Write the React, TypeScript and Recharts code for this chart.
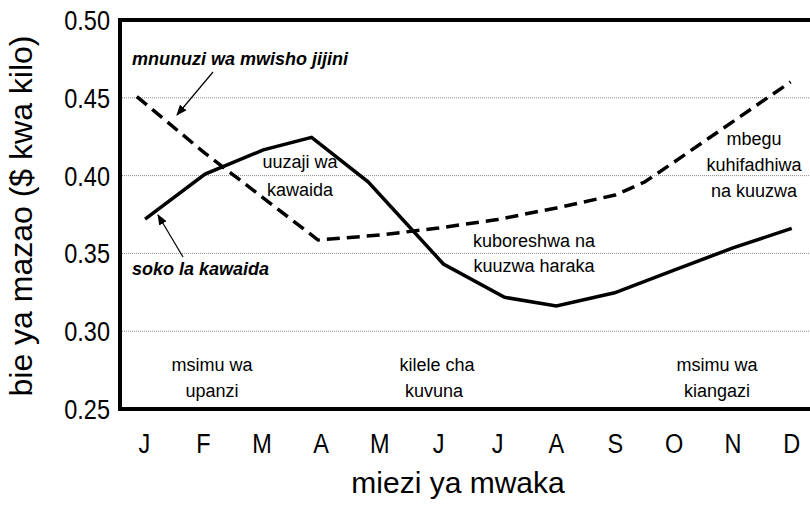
import React from "react";
import { CartesianGrid, Line, LineChart, ReferenceLine, XAxis, YAxis } from "recharts";

// month letters on the x axis (index 0 = January)
const months = ["J", "F", "M", "A", "M", "J", "J", "A", "S", "O", "N", "D"];
const monthTicks = [0, 1, 2, 3, 4, 5, 6, 7, 8, 9, 10, 11];
const priceTicks = [0.25, 0.3, 0.35, 0.4, 0.45, 0.5];

// soko la kawaida (solid line) - x is month position
const sokoMonth = [0.01, 1.03, 2.02, 2.84, 3.8, 5.08, 6.12, 7.0, 7.99, 9, 10, 11];
const sokoPrice = [0.372, 0.401, 0.4165, 0.4246, 0.396, 0.3432, 0.3218, 0.3162, 0.3247, 0.3393, 0.3535, 0.3661];

// mnunuzi wa mwisho jijini (dashed line)
const mjiniMonth = [-0.13, 1, 2, 2.95, 4, 5, 6, 7, 8, 8.5, 9, 10, 10.98];
const mjiniPrice = [0.4508, 0.4152, 0.3862, 0.3586, 0.3618, 0.3663, 0.3718, 0.3792, 0.3875, 0.3959, 0.4087, 0.4347, 0.4602];

const sokoData = sokoMonth.map((m, i) => ({ m, price: sokoPrice[i] }));
const mjiniData = mjiniMonth.map((m, i) => ({ m, price: mjiniPrice[i] }));

const FONT = "'Liberation Sans', Arial, Helvetica, sans-serif";

function YTick(props: any) {
  const { x, y, payload } = props;
  return (
    <text
      transform={`translate(${x},${y}) scale(0.84,1)`}
      textAnchor="end"
      dy="0.36em"
      fontSize={28}
      fontFamily={FONT}
      fill="#000"
    >
      {Number(payload.value).toFixed(2)}
    </text>
  );
}

function XTick(props: any) {
  const { x, y, payload } = props;
  return (
    <text
      transform={`translate(${x},${y}) scale(0.84,1)`}
      textAnchor="middle"
      dy="0.36em"
      fontSize={28}
      fontFamily={FONT}
      fill="#000"
    >
      {months[payload.value]}
    </text>
  );
}

function Notes() {
  const t = { fontFamily: FONT, fontSize: 18, fill: "#000" } as const;
  return (
    <svg
      width={810}
      height={505}
      style={{ position: "absolute", left: 0, top: 0, pointerEvents: "none" }}
    >
      <defs>
        <marker id="head" viewBox="0 0 10 10" refX="9" refY="5" markerWidth="9" markerHeight="9" orient="auto">
          <path d="M0,1 L10,5 L0,9 z" fill="#000" />
        </marker>
      </defs>
      <text x={132} y={65} {...t} fontWeight="bold" fontStyle="italic">mnunuzi wa mwisho jijini</text>
      <line x1={213} y1={72} x2={177} y2={115} stroke="#000" strokeWidth={1.2} markerEnd="url(#head)" />
      <text x={132} y={275} {...t} fontWeight="bold" fontStyle="italic">soko la kawaida</text>
      <line x1={183} y1={257} x2={158} y2={215} stroke="#000" strokeWidth={1.2} markerEnd="url(#head)" />

      <g textAnchor="middle">
        <text x={300} y={168} {...t}>uuzaji wa</text>
        <text x={300} y={196} {...t}>kawaida</text>
        <text x={534} y={247} {...t}>kuboreshwa na</text>
        <text x={534} y={272} {...t}>kuuzwa haraka</text>
        <text x={754} y={145} {...t}>mbegu</text>
        <text x={754} y={171} {...t}>kuhifadhiwa</text>
        <text x={754} y={197} {...t}>na kuuzwa</text>
        <text x={212} y={371} {...t}>msimu wa</text>
        <text x={212} y={397} {...t}>upanzi</text>
        <text x={437} y={371} {...t}>kilele cha</text>
        <text x={434} y={397} {...t}>kuvuna</text>
        <text x={717} y={371} {...t}>msimu wa</text>
        <text x={717} y={397} {...t}>kiangazi</text>
      </g>

      <text x={458} y={493} textAnchor="middle" fontFamily={FONT} fontSize={30} fill="#000">miezi ya mwaka</text>
      <text
        transform="translate(32,216) rotate(-90)"
        textAnchor="middle"
        fontFamily={FONT}
        fontSize={32}
        fill="#000"
      >
        bie ya mazao ($ kwa kilo)
      </text>
    </svg>
  );
}

export default function App() {
  return (
    <div style={{ position: "absolute", left: 0, top: 0, width: 810, height: 505, background: "#fff" }}>
      <LineChart width={810} height={505} margin={{ top: 20, right: 0, bottom: 0, left: 0 }}>
        <CartesianGrid vertical={false} stroke="#888" strokeDasharray="1 1" />
        <XAxis
          type="number"
          dataKey="m"
          domain={[-0.416, 11.31]}
          ticks={monthTicks}
          interval={0}
          allowDataOverflow
          height={96}
          tickLine={false}
          tickSize={0}
          tickMargin={34}
          axisLine={{ stroke: "#000", strokeWidth: 4, strokeLinecap: "square" }}
          tick={(p: any) => <XTick {...p} />}
        />
        <YAxis
          type="number"
          domain={[0.25, 0.5]}
          ticks={priceTicks}
          interval={0}
          width={120}
          tickLine={false}
          tickSize={0}
          tickMargin={10}
          axisLine={{ stroke: "#000", strokeWidth: 4, strokeLinecap: "square" }}
          tick={(p: any) => <YTick {...p} />}
        />
        <ReferenceLine y={0.5} stroke="#000" strokeWidth={4} />
        <Line
          data={mjiniData}
          dataKey="price"
          type="linear"
          stroke="#000"
          strokeWidth={3.5}
          strokeDasharray="13 7"
          dot={false}
          activeDot={false}
          isAnimationActive={false}
        />
        <Line
          data={sokoData}
          dataKey="price"
          type="linear"
          stroke="#000"
          strokeWidth={3.5}
          dot={false}
          activeDot={false}
          isAnimationActive={false}
        />
      </LineChart>
      <Notes />
    </div>
  );
}
